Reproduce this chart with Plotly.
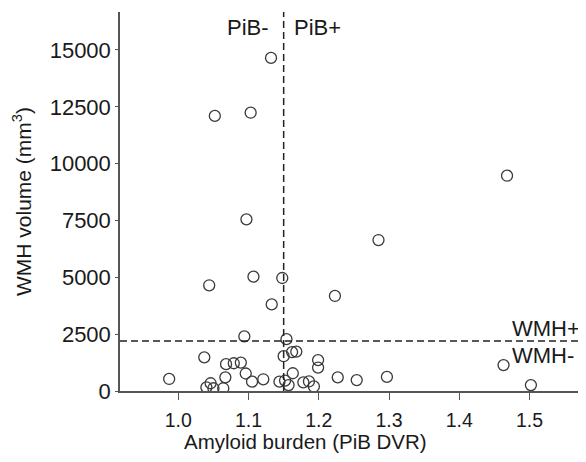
import plotly.graph_objects as go

# Data
pib_dvr = [1.132, 1.052, 1.103, 1.468, 1.097, 1.285, 1.044, 1.107, 1.148, 1.133, 1.223,
           0.987, 1.037, 1.040, 1.046, 1.050, 1.064, 1.067, 1.068, 1.079, 1.089, 1.094,
           1.096, 1.105, 1.121, 1.144, 1.150, 1.154, 1.152, 1.157, 1.163, 1.162, 1.168,
           1.178, 1.186, 1.193, 1.199, 1.199, 1.227, 1.254, 1.297, 1.463, 1.502]
wmh_volume = [14650, 12100, 12240, 9470, 7550, 6640, 4650, 5030, 4970, 3810, 4180,
              530, 1480, 160, 340, 120, 120, 600, 1180, 1220, 1250, 2400,
              770, 410, 515, 410, 1530, 2280, 460, 260, 780, 1710, 1730,
              380, 420, 200, 1360, 1030, 600, 480, 620, 1140, 260]

pib_cutoff = 1.15
wmh_cutoff = 2200
x_ticks = [1.0, 1.1, 1.2, 1.3, 1.4, 1.5]
y_ticks = [0, 2500, 5000, 7500, 10000, 12500, 15000]
x_title = "Amyloid burden (PiB DVR)"
y_title = "WMH volume (mm<sup>3</sup>)"

FONT = "Liberation Sans, Arial, Helvetica, sans-serif"
TXT = "#1a1a1a"
AX = "#555555"

fig = go.Figure()
fig.add_trace(go.Scatter(
    x=pib_dvr, y=wmh_volume, mode="markers",
    marker=dict(symbol="circle-open", size=11, color="#3a3a3a", line=dict(width=1.3)),
    showlegend=False, hoverinfo="x+y",
))

fig.add_shape(type="line", xref="x", yref="paper", x0=pib_cutoff, x1=pib_cutoff, y0=0, y1=1,
              line=dict(color="#222222", width=1.5, dash="7px,4px"))
fig.add_shape(type="line", xref="paper", yref="y", x0=0, x1=1, y0=wmh_cutoff, y1=wmh_cutoff,
              line=dict(color="#222222", width=1.5, dash="7px,4px"))

ann_font = dict(family=FONT, size=22, color=TXT)
fig.add_annotation(x=pib_cutoff, y=16000, xref="x", yref="y", text="PiB-", showarrow=False,
                   xanchor="right", yanchor="middle", xshift=-13, font=ann_font)
fig.add_annotation(x=pib_cutoff, y=16000, xref="x", yref="y", text="PiB+", showarrow=False,
                   xanchor="left", yanchor="middle", xshift=8, font=ann_font)
fig.add_annotation(x=1.474, y=2730, xref="x", yref="y", text="WMH+", showarrow=False,
                   xanchor="left", yanchor="middle", xshift=-1, font=ann_font)
fig.add_annotation(x=1.474, y=1540, xref="x", yref="y", text="WMH-", showarrow=False,
                   xanchor="left", yanchor="middle", xshift=-1, font=ann_font)
# x-axis title (in the reference it sits left of the plot-area centre)
fig.add_annotation(x=1.181, y=-0.134, xref="x", yref="paper", text=x_title, showarrow=False,
                   xanchor="center", yanchor="middle",
                   font=dict(family=FONT, size=20.5, color=TXT))

fig.update_xaxes(
    range=[0.917, 1.579], tickvals=x_ticks, ticktext=[f"{v:.1f}" for v in x_ticks],
    showline=True, linecolor=AX, linewidth=1.5, ticks="outside", ticklen=7, tickcolor=AX,
    showgrid=False, zeroline=False, ticklabelstandoff=4,
    tickfont=dict(family=FONT, size=19.5, color=TXT),
)
fig.update_yaxes(
    range=[0, 16670], tickvals=y_ticks, ticktext=[str(v) for v in y_ticks],
    showline=True, linecolor=AX, linewidth=1.5, ticks="outside", ticklen=3, tickcolor=AX,
    showgrid=False, zeroline=False,
    tickfont=dict(family=FONT, size=22, color=TXT),
    title=dict(text=y_title, font=dict(family=FONT, size=21, color=TXT), standoff=12),
)
# page body has an 8px default margin, so the figure is sized to fill the rest of the window
fig.update_layout(
    width=578, height=454,
    margin=dict(l=112, r=1, t=4, b=71, autoexpand=False),
    paper_bgcolor="white", plot_bgcolor="white",
)
fig.write_html("out.html")
